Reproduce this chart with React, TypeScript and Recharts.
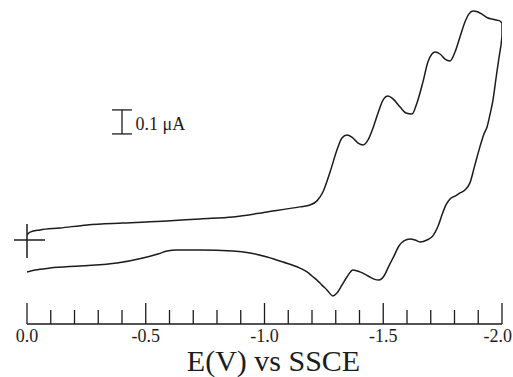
import React from "react";
import {
  LineChart,
  Line,
  XAxis,
  YAxis,
  ReferenceLine,
  ReferenceDot,
} from "recharts";

// forward (cathodic) scan, 0 -> -2.0 V
const forwardE = [
  0, -0.013, -0.055, -0.139, -0.253, -0.404, -0.589, -0.728, -0.867, -1.011,
  -1.149, -1.192, -1.221, -1.246, -1.276, -1.305, -1.326, -1.347, -1.368, -1.394,
  -1.415, -1.436, -1.457, -1.478, -1.499, -1.52, -1.541, -1.571, -1.596, -1.621,
  -1.642, -1.667, -1.688, -1.705, -1.718, -1.739, -1.76, -1.781, -1.802, -1.823,
  -1.844, -1.861, -1.878, -1.899, -1.92, -1.941, -1.958, -1.975, -1.992,
];
const forwardI = [
  0.021, 0.033, 0.042, 0.05, 0.063, 0.071, 0.079, 0.088, 0.096, 0.117,
  0.138, 0.146, 0.163, 0.2, 0.283, 0.375, 0.425, 0.438, 0.429, 0.404,
  0.396, 0.417, 0.467, 0.529, 0.583, 0.6, 0.588, 0.554, 0.529, 0.525,
  0.571, 0.658, 0.742, 0.775, 0.783, 0.775, 0.754, 0.746, 0.783, 0.846,
  0.908, 0.942, 0.954, 0.95, 0.938, 0.925, 0.921, 0.917, 0.913,
];

// switching potential
const turnE = [-1.992, -2.0, -2.0, -1.996];
const turnI = [0.913, 0.904, 0.85, 0.813];

// reverse (anodic) scan, listed from 0 towards -2.0 V
const reverseE = [
  0, -0.034, -0.097, -0.223, -0.379, -0.488, -0.555, -0.59, -0.63, -0.728, -0.867,
  -0.939, -1.011, -1.078, -1.149, -1.179, -1.2, -1.221, -1.242, -1.263, -1.288,
  -1.305, -1.326, -1.347, -1.373, -1.402, -1.436, -1.461, -1.482, -1.503, -1.524,
  -1.545, -1.566, -1.587, -1.613, -1.634, -1.655, -1.684, -1.709, -1.731, -1.747,
  -1.764, -1.781, -1.802, -1.823, -1.844, -1.865, -1.886, -1.907, -1.924, -1.937,
  -1.949, -1.962, -1.975, -1.987, -1.996,
];
const reverseI = [
  -0.133, -0.125, -0.117, -0.108, -0.096, -0.075, -0.057, -0.046, -0.042, -0.042, -0.046,
  -0.054, -0.071, -0.092, -0.117, -0.133, -0.15, -0.167, -0.188, -0.208, -0.233,
  -0.221, -0.188, -0.154, -0.125, -0.133, -0.15, -0.163, -0.167, -0.15, -0.108,
  -0.067, -0.025, -0.004, 0.004, 0, -0.008, 0, 0.017, 0.058, 0.104,
  0.146, 0.171, 0.183, 0.196, 0.208, 0.238, 0.313, 0.388, 0.442, 0.471,
  0.521, 0.583, 0.675, 0.758, 0.813,
];

const tickValues = [
  0, -0.1, -0.2, -0.3, -0.4, -0.5, -0.6, -0.7, -0.8, -0.9, -1.0,
  -1.1, -1.2, -1.3, -1.4, -1.5, -1.6, -1.7, -1.8, -1.9, -2.0,
];
const majorLabels: Record<string, string> = {
  "0": "0.0",
  "-0.5": "-0.5",
  "-1": "-1.0",
  "-1.5": "-1.5",
  "-2": "-2.0",
};

// 0.1 uA scale bar
const scaleBarE = -0.4;
const scaleBarHalfWidth = 0.042;
const scaleBarTop = 0.542;
const scaleBarBottom = 0.442;
const scaleBarText = "0.1 μA";

const toRows = (es: number[], is: number[]) =>
  es.map((e, k) => ({ E: e, I: is[k] }));

const forward = toRows(forwardE, forwardI);
const turn = toRows(turnE, turnI);
const reverse = toRows(reverseE, reverseI);

const INK = "#1c1c1c";
const FONT = "'Liberation Serif', 'DejaVu Serif', serif";

const AxisTick = (props: any) => {
  const { x, y, payload } = props;
  const key = String(Math.round(payload.value * 10) / 10);
  const label = majorLabels[key];
  const len = label ? 21 : 14;
  // last label sits against the right edge
  const isLast = key === "-2";
  return (
    <g>
      <line x1={x} y1={y} x2={x} y2={y - len} stroke={INK} strokeWidth={1.3} />
      {label && (
        <text
          x={isLast ? x + 10 : x}
          y={y + 18}
          textAnchor={isLast ? "end" : "middle"}
          fontFamily={FONT}
          fontSize={18}
          fill={INK}
        >
          {label}
        </text>
      )}
    </g>
  );
};

const App: React.FC = () => {
  return (
    <div
      style={{
        position: "absolute",
        left: 0,
        top: 0,
        width: 513,
        height: 377,
        background: "#fff",
      }}
    >
      <LineChart
        width={513}
        height={377}
        margin={{ top: 0, right: 11, bottom: 0, left: 27 }}
      >
        <XAxis
          dataKey="E"
          type="number"
          domain={[-2, 0]}
          reversed
          allowDataOverflow
          ticks={tickValues}
          interval={0}
          tick={<AxisTick />}
          tickLine={false}
          tickSize={0}
          tickMargin={0}
          height={53}
          axisLine={{ stroke: INK, strokeWidth: 1.5 }}
          label={{
            value: "E(V) vs SSCE",
            position: "insideBottom",
            offset: 6,
            dx: 9,
            style: { fontFamily: FONT, fontSize: 30, fill: INK },
          }}
        />
        <YAxis
          dataKey="I"
          type="number"
          domain={[-0.35, 1.0]}
          allowDataOverflow
          hide
        />
        <Line
          data={forward}
          dataKey="I"
          type="monotone"
          stroke={INK}
          strokeWidth={1.5}
          dot={false}
          isAnimationActive={false}
        />
        <Line
          data={turn}
          dataKey="I"
          type="linear"
          stroke={INK}
          strokeWidth={1.5}
          dot={false}
          isAnimationActive={false}
        />
        <Line
          data={reverse}
          dataKey="I"
          type="monotone"
          stroke={INK}
          strokeWidth={1.5}
          dot={false}
          isAnimationActive={false}
        />

        {/* starting-potential crosshair */}
        <ReferenceLine
          segment={[
            { x: 0.055, y: 0 },
            { x: -0.076, y: 0 },
          ]}
          stroke={INK}
          strokeWidth={1.5}
          ifOverflow="visible"
        />
        <ReferenceLine
          segment={[
            { x: 0, y: 0.067 },
            { x: 0, y: -0.075 },
          ]}
          stroke={INK}
          strokeWidth={1.5}
          ifOverflow="visible"
        />

        {/* current scale bar */}
        <ReferenceLine
          segment={[
            { x: scaleBarE, y: scaleBarTop },
            { x: scaleBarE, y: scaleBarBottom },
          ]}
          stroke={INK}
          strokeWidth={1.3}
        />
        <ReferenceLine
          segment={[
            { x: scaleBarE + scaleBarHalfWidth, y: scaleBarTop },
            { x: scaleBarE - scaleBarHalfWidth, y: scaleBarTop },
          ]}
          stroke={INK}
          strokeWidth={1.3}
        />
        <ReferenceLine
          segment={[
            { x: scaleBarE + scaleBarHalfWidth, y: scaleBarBottom },
            { x: scaleBarE - scaleBarHalfWidth, y: scaleBarBottom },
          ]}
          stroke={INK}
          strokeWidth={1.3}
        />
        <ReferenceDot
          x={scaleBarE - scaleBarHalfWidth - 0.015}
          y={scaleBarBottom + 0.017}
          r={0}
          shape={(p: any) => (
            <text
              x={p.cx}
              y={p.cy}
              fontFamily={FONT}
              fontSize={18}
              fill={INK}
            >
              {scaleBarText}
            </text>
          )}
        />
      </LineChart>
    </div>
  );
};

export default App;
